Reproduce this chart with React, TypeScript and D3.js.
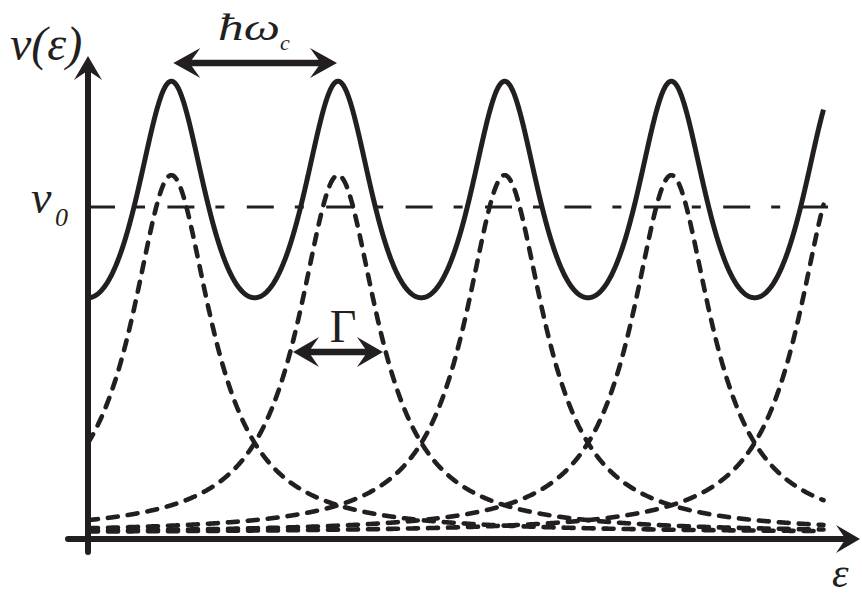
import React from "react";
import * as d3 from "d3";

// Landau-level centres, in units of ħω_c (ε_n = n + 1/2)
const levels = [0.5, 1.5, 2.5, 3.5, 4.5];
// Lorentzian half-width γ, in units of ħω_c
const gamma = 0.29;
// Energy range drawn for the curves
const epsRange = [0, 4.415];
// Density of states at the ν0 reference level (units of ν0)
const nu0 = 1;

const W = 862;
const H = 595;
const INK = "#231f20";
const FONT = "'Liberation Serif', 'Times New Roman', serif";

// Single broadened level: ν0/π · γ / ((ε-εn)² + γ²)
const lorentz = (e: number, c: number) =>
  (nu0 / Math.PI) * (gamma / ((e - c) * (e - c) + gamma * gamma));

// Sum over all levels (closed form of the periodic Lorentzian sum)
const total = (e: number) => {
  const a = 2 * Math.PI * gamma;
  return (nu0 * Math.sinh(a)) / (Math.cosh(a) - Math.cos(2 * Math.PI * (e - 0.5)));
};

function arrowHead(x: number, y: number, angle: number, L = 23, hw = 13) {
  const pts: [number, number][] = [
    [0, 0],
    [-L, -hw],
    [-L * 0.6, 0],
    [-L, hw],
  ];
  const c = Math.cos(angle);
  const s = Math.sin(angle);
  const p = pts.map(([px, py]) => [x + px * c - py * s, y + px * s + py * c]);
  return `M${p.map((q) => q.join(",")).join("L")}Z`;
}

export default function App() {
  const x = d3.scaleLinear().domain([0, 4.5]).range([88, 838]);
  const y = d3.scaleLinear().domain([0, 1]).range([533, 207]);

  const samples = d3.range(epsRange[0], epsRange[1] + 1e-9, 0.003);
  const line = d3
    .line<[number, number]>()
    .x((d) => x(d[0]))
    .y((d) => y(d[1]))
    .curve(d3.curveLinear);

  const totalPath = line(samples.map((e) => [e, total(e)] as [number, number])) || "";
  const levelPaths = levels.map(
    (c) => line(samples.map((e) => [e, lorentz(e, c)] as [number, number])) || ""
  );

  const axisY = y(0) + 6;
  const axisX = x(0);

  // ħω_c spacing marker between the first two levels
  const hwY = 63;
  const hwL = x(levels[0]) + 2;
  const hwR = x(levels[1]) - 1;

  // Γ marker: full width at half maximum of the second level
  const halfY = y(lorentz(levels[1], levels[1]) / 2) - 2;
  const gL = x(levels[1] - gamma * 0.93);
  const gR = x(levels[1] + gamma * 0.93);

  return (
    <svg width={W} height={H} style={{ display: "block", position: "absolute", left: 0, top: 0 }}>
      <rect width={W} height={H} fill="#fff" />

      {/* ν0 reference level */}
      <line
        x1={axisX}
        x2={828}
        y1={y(nu0)}
        y2={y(nu0)}
        stroke={INK}
        strokeWidth={3}
        strokeDasharray="27 21 9 22.4"
      />

      {/* individual broadened levels */}
      {levelPaths.map((d, i) => (
        <path
          key={i}
          d={d}
          fill="none"
          stroke={INK}
          strokeWidth={4.6}
          strokeDasharray="10 10"
          strokeLinecap="round"
        />
      ))}

      {/* total density of states */}
      <path d={totalPath} fill="none" stroke={INK} strokeWidth={5} strokeLinejoin="round" />

      {/* axes */}
      <line x1={68} x2={845} y1={axisY} y2={axisY} stroke={INK} strokeWidth={6} strokeLinecap="round" />
      <path d={arrowHead(860, axisY, 0, 24, 14)} fill={INK} />
      <line x1={axisX} x2={axisX} y1={552} y2={72} stroke={INK} strokeWidth={6} strokeLinecap="round" />
      <path d={arrowHead(axisX, 56, -Math.PI / 2, 24, 14)} fill={INK} />

      {/* ħω_c double arrow */}
      <line x1={hwL + 15} x2={hwR - 15} y1={hwY} y2={hwY} stroke={INK} strokeWidth={6.5} />
      <path d={arrowHead(hwL, hwY, Math.PI, 27, 15)} fill={INK} />
      <path d={arrowHead(hwR, hwY, 0, 27, 15)} fill={INK} />

      {/* Γ double arrow */}
      <line x1={gL + 15} x2={gR - 15} y1={halfY} y2={halfY} stroke={INK} strokeWidth={6.5} />
      <path d={arrowHead(gL, halfY, Math.PI, 26, 15)} fill={INK} />
      <path d={arrowHead(gR, halfY, 0, 26, 15)} fill={INK} />

      {/* labels */}
      <text x={10} y={60} fontFamily={FONT} fontStyle="italic" fontSize={48} fill={INK}>
        ν(ε)
      </text>
      <text x={31} y={213} fontFamily={FONT} fontStyle="italic" fontSize={46} fill={INK}>
        ν
      </text>
      <text x={55} y={226} fontFamily={FONT} fontStyle="italic" fontSize={26} fill={INK}>
        0
      </text>
      <text
        x={218}
        y={40}
        fontFamily={FONT}
        fontStyle="italic"
        fontSize={38}
        fill={INK}
        textLength={62}
        lengthAdjust="spacingAndGlyphs"
      >
        ħω
      </text>
      <text x={280} y={50} fontFamily={FONT} fontStyle="italic" fontSize={22} fill={INK}>
        c
      </text>
      <text x={343} y={342} textAnchor="middle" fontFamily={FONT} fontSize={46} fill={INK}>
        Γ
      </text>
      <text x={832} y={587} fontFamily={FONT} fontStyle="italic" fontSize={42} fill={INK}>
        ε
      </text>
    </svg>
  );
}
